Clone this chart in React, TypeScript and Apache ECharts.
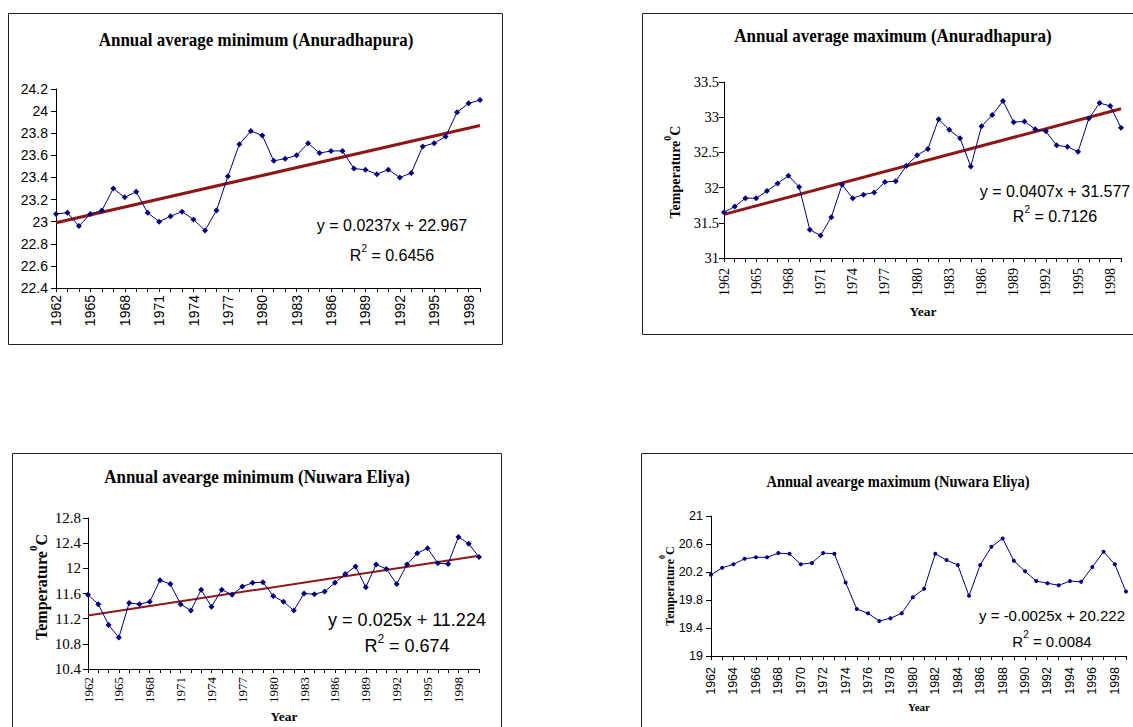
import React, { useEffect, useRef } from "react";
import * as echarts from "echarts";

const years = [
  "1962", "1963", "1964", "1965", "1966", "1967", "1968", "1969", "1970", "1971",
  "1972", "1973", "1974", "1975", "1976", "1977", "1978", "1979", "1980", "1981",
  "1982", "1983", "1984", "1985", "1986", "1987", "1988", "1989", "1990", "1991",
  "1992", "1993", "1994", "1995", "1996", "1997", "1998", "1999", "2000",
];
const years38 = years.slice(0, 38);
const years39 = years.slice(0, 39);

const anuMin = [
  23.07, 23.08, 22.96, 23.07, 23.1, 23.3, 23.22, 23.27, 23.08, 23.0,
  23.05, 23.09, 23.02, 22.92, 23.1, 23.41, 23.7, 23.82, 23.78, 23.55,
  23.57, 23.6, 23.71, 23.62, 23.64, 23.64, 23.48, 23.47, 23.43, 23.47,
  23.4, 23.44, 23.68, 23.71, 23.77, 23.99, 24.07, 24.1,
];
const anuMinTrend = [22.99, 23.87];

const anuMax = [
  31.65, 31.73, 31.85, 31.85, 31.95, 32.06, 32.17, 32.01, 31.4, 31.32,
  31.58, 32.04, 31.85, 31.9, 31.93, 32.08, 32.09, 32.31, 32.46, 32.55,
  32.97, 32.82, 32.7, 32.3, 32.87, 33.03, 33.23, 32.93, 32.94, 32.83,
  32.8, 32.6, 32.58, 32.51, 32.98, 33.2, 33.16, 32.85,
];
const anuMaxTrend = [31.62, 33.12];

const nuwMin = [
  11.58, 11.43, 11.1, 10.9, 11.45, 11.43, 11.47, 11.81, 11.75, 11.43,
  11.33, 11.66, 11.39, 11.66, 11.58, 11.71, 11.77, 11.78, 11.56, 11.47,
  11.33, 11.6, 11.59, 11.63, 11.77, 11.91, 12.03, 11.7, 12.06, 11.99,
  11.75, 12.06, 12.24, 12.32, 12.08, 12.07, 12.5, 12.39, 12.18,
];
const nuwMinTrend = [11.25, 12.2];

const nuwMax = [
  20.16, 20.26, 20.31, 20.39, 20.41, 20.41, 20.47, 20.46, 20.31, 20.33,
  20.47, 20.46, 20.05, 19.67, 19.61, 19.5, 19.54, 19.61, 19.84, 19.96,
  20.46, 20.37, 20.3, 19.86, 20.3, 20.56, 20.68, 20.36, 20.21, 20.07,
  20.04, 20.01, 20.07, 20.06, 20.27, 20.49, 20.31, 19.92,
];
const nuwMaxTicks = [19, 19.4, 19.8, 20.2, 20.6, 21];

const titles = [
  "Annual average minimum (Anuradhapura)",
  "Annual average maximum (Anuradhapura)",
  "Annual avearge minimum (Nuwara Eliya)",
  "Annual avearge maximum (Nuwara Eliya)",
];
const equations = [
  ["y = 0.0237x + 22.967", "0.6456"],
  ["y = 0.0407x + 31.577", "0.7126"],
  ["y = 0.025x + 11.224", "0.674"],
  ["y = -0.0025x + 20.222", "0.0084"],
];

const SERIF = '"Liberation Serif", "Times New Roman", serif';
const SANS = '"Liberation Sans", Arial, sans-serif';
const NAVY = "#000080";
const TREND = "#8E1616";

const fmt = (v: number) => String(Math.round(v * 100) / 100);

function xAxisFor(gridIndex: number, cats: string[], labelInterval: number, font: string, fontSize: number, margin: number) {
  return {
    type: "category",
    gridIndex,
    data: cats,
    boundaryGap: false,
    axisLine: { onZero: false, lineStyle: { color: "#000", width: 1 } },
    axisTick: { show: true, interval: 0, length: 4, lineStyle: { color: "#000" } },
    axisLabel: { interval: labelInterval, rotate: 90, margin, fontFamily: font, fontSize, color: "#000" },
    splitLine: { show: false },
  };
}

function yAxisFor(gridIndex: number, min: number, max: number, interval: number | null, font: string, fontSize: number, margin: number, custom?: number[]) {
  const ax: any = {
    type: "value",
    gridIndex,
    min,
    max,
    axisLine: { show: true, lineStyle: { color: "#000", width: 1 } },
    axisTick: { show: true, length: 5, lineStyle: { color: "#000" } },
    axisLabel: { margin, fontFamily: font, fontSize, color: "#000", formatter: fmt },
    splitLine: { show: false },
  };
  if (interval !== null) ax.interval = interval;
  if (custom) {
    ax.axisTick.customValues = custom;
    ax.axisLabel.customValues = custom;
  }
  return ax;
}

function dataSeries(idx: number, values: number[], size: number, symbol: string) {
  return {
    type: "line",
    xAxisIndex: idx,
    yAxisIndex: idx,
    data: values,
    symbol,
    symbolSize: size,
    lineStyle: { color: NAVY, width: 1 },
    itemStyle: { color: NAVY },
    z: 3,
  };
}

function trendSeries(idx: number, cats: string[], t: number[], width: number) {
  return {
    type: "line",
    xAxisIndex: idx,
    yAxisIndex: idx,
    data: [[cats[0], t[0]], [cats[cats.length - 1], t[1]]],
    symbol: "none",
    lineStyle: { color: TREND, width },
    z: 2,
  };
}

function box(x: number, y: number, w: number, h: number) {
  return { type: "rect", shape: { x: x + 0.5, y: y + 0.5, width: w, height: h }, style: { fill: "none", stroke: "#222", lineWidth: 1 }, z: 0 };
}

function titleText(text: string, x: number, y: number, size: number) {
  return { type: "text", x, y, scaleY: 1.15, style: { text, fontFamily: SERIF, fontWeight: "bold", fontSize: size, fill: "#000", align: "center", verticalAlign: "middle" } };
}

function eqTexts(i: number, x: number, y1: number, y2: number, size: number) {
  const [eq, r2] = equations[i];
  return [
    { type: "text", x, y: y1, style: { text: eq, fontFamily: SANS, fontSize: size, fill: "#000", align: "center", verticalAlign: "middle" } },
    {
      type: "text", x, y: y2,
      style: {
        text: "{m|R}{s|2}{m| = " + r2 + "}",
        rich: {
          m: { fontFamily: SANS, fontSize: size, fill: "#000", verticalAlign: "bottom", lineHeight: size + 4 },
          s: { fontFamily: SANS, fontSize: Math.round(size * 0.65), fill: "#000", verticalAlign: "top" },
        },
        align: "center", verticalAlign: "middle",
      },
    },
  ];
}

function yName(x: number, y: number, size: number) {
  return {
    type: "text", x, y, rotation: Math.PI / 2,
    style: {
      text: "{m|Temperature}{s|0}{m|C}",
      rich: {
        m: { fontFamily: SERIF, fontWeight: "bold", fontSize: size, fill: "#000", verticalAlign: "bottom", lineHeight: size + 6 },
        s: { fontFamily: SERIF, fontWeight: "bold", fontSize: Math.round(size * 0.7), fill: "#000", verticalAlign: "top" },
      },
      align: "center", verticalAlign: "middle",
    },
  };
}

function xName(x: number, y: number, size: number) {
  return { type: "text", x, y, style: { text: "Year", fontFamily: SERIF, fontWeight: "bold", fontSize: size, fill: "#000", align: "center", verticalAlign: "middle" } };
}

export default function App() {
  const ref = useRef<HTMLDivElement>(null);
  useEffect(() => {
    if (!ref.current) return;
    const chart = echarts.init(ref.current, null, { renderer: "svg" });
    const option: any = {
      animation: false,
      backgroundColor: "#fff",
      grid: [
        { left: 56, top: 89, width: 424, height: 199 },
        { left: 724, top: 82, width: 397, height: 176 },
        { left: 88, top: 518, width: 391, height: 151 },
        { left: 711, top: 516, width: 415, height: 140 },
      ],
      xAxis: [
        xAxisFor(0, years38, 2, SANS, 14, 7),
        xAxisFor(1, years38, 2, SERIF, 14, 10),
        xAxisFor(2, years39, 2, SERIF, 13, 8),
        xAxisFor(3, years38, 1, SANS, 12.5, 11),
      ],
      yAxis: [
        yAxisFor(0, 22.4, 24.2, 0.2, SANS, 14, 8),
        yAxisFor(1, 31, 33.5, 0.5, SERIF, 14.5, 5),
        yAxisFor(2, 10.4, 12.8, 0.4, SERIF, 15, 7),
        yAxisFor(3, 19, 21, null, SANS, 12.5, 8, nuwMaxTicks),
      ],
      series: [
        trendSeries(0, years38, anuMinTrend, 3),
        dataSeries(0, anuMin, 6, "diamond"),
        trendSeries(1, years38, anuMaxTrend, 3),
        dataSeries(1, anuMax, 6, "diamond"),
        trendSeries(2, years39, nuwMinTrend, 2),
        dataSeries(2, nuwMin, 6, "diamond"),
        dataSeries(3, nuwMax, 4, "circle"),
      ],
      graphic: [
        box(8, 13, 494, 331),
        box(642, 13, 510, 321),
        box(12, 453, 489, 300),
        box(641, 453, 510, 300),
        titleText(titles[0], 256, 40, 17),
        titleText(titles[1], 893, 36, 17),
        titleText(titles[2], 257, 477, 17),
        titleText(titles[3], 898, 481, 14.5),
        ...eqTexts(0, 392, 225, 253, 16),
        ...eqTexts(1, 1055, 191, 214, 16),
        ...eqTexts(2, 407, 620, 644, 18),
        ...eqTexts(3, 1052, 615, 639, 15),
        yName(672, 172, 14),
        yName(38, 587, 16),
        yName(667, 586, 12),
        xName(923, 311, 13.5),
        xName(284, 716, 13.5),
        xName(919, 707, 11),
      ],
    };
    chart.setOption(option);
    return () => chart.dispose();
  }, []);
  return <div ref={ref} style={{ position: "absolute", left: 0, top: 0, width: 1133, height: 727 }} />;
}
